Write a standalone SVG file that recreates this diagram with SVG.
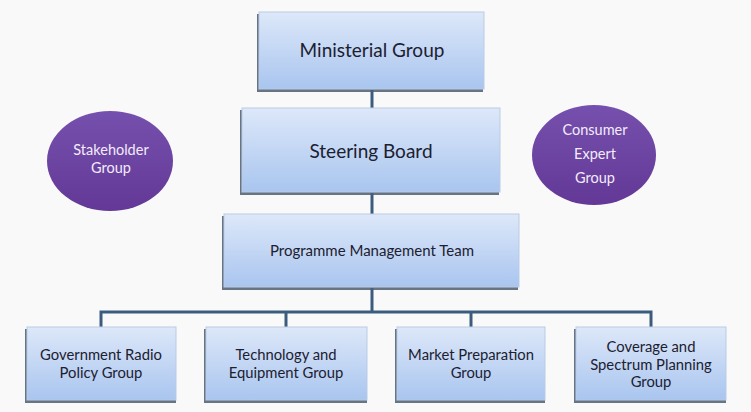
<svg xmlns="http://www.w3.org/2000/svg" width="751" height="412" viewBox="0 0 751 412">
<defs>
<linearGradient id="boxg" x1="0" y1="0" x2="0" y2="1">
<stop offset="0" stop-color="#dde8f9"/>
<stop offset="1" stop-color="#a9c5ef"/>
</linearGradient>
<linearGradient id="ellg" x1="0" y1="0" x2="0" y2="1">
<stop offset="0" stop-color="#7650ae"/>
<stop offset="1" stop-color="#633896"/>
</linearGradient>
</defs>
<style>
.shadow{fill:#4e5d70;opacity:0.85}
.box{fill:url(#boxg);stroke:#b9cbe6;stroke-width:1}
.ell{fill:url(#ellg)}
.conn{stroke:#3b5c7e;stroke-width:3;fill:none}
text{font-family:Lato,"Open Sans","Liberation Sans",sans-serif;fill:#1c2030;text-anchor:middle}
.big{font-size:19px}
.mid{font-size:15px}
.sm{font-size:14.8px}
.wt{fill:#f3ecfa;font-size:14.5px}
</style>
<rect width="751" height="412" fill="#f9f9f9"/>
<g id="connectors">
<line class="conn" x1="372" y1="90" x2="372" y2="108"/>
<line class="conn" x1="372" y1="193" x2="372" y2="214"/>
<line class="conn" x1="372" y1="288" x2="372" y2="312"/>
<polyline class="conn" points="101,327 101,312 651,312 651,327"/>
<line class="conn" x1="286" y1="312" x2="286" y2="327"/>
<line class="conn" x1="471" y1="312" x2="471" y2="327"/>
</g>
<g id="ministerial">
<rect class="shadow" x="257" y="14" width="226" height="78"/>
<rect class="box" x="259" y="12" width="225" height="77"/>
<text class="big" x="372" y="57">Ministerial Group</text>
</g>
<g id="steering">
<rect class="shadow" x="240" y="110" width="259" height="85"/>
<rect class="box" x="242" y="108" width="258" height="84"/>
<text class="big" x="371" y="158">Steering Board</text>
</g>
<g id="pmt">
<rect class="shadow" x="222" y="216" width="296" height="74"/>
<rect class="box" x="224" y="214" width="295" height="73"/>
<text class="mid" x="372" y="256">Programme Management Team</text>
</g>
<g id="stakeholder">
<ellipse class="ell" cx="110" cy="161" rx="63" ry="50"/>
<text class="wt" x="111" y="155">Stakeholder</text>
<text class="wt" x="111" y="173">Group</text>
</g>
<g id="consumer">
<ellipse class="ell" cx="594" cy="155" rx="62" ry="50"/>
<text class="wt" x="595" y="135">Consumer</text>
<text class="wt" x="595" y="159">Expert</text>
<text class="wt" x="595" y="183">Group</text>
</g>
<g id="govradio">
<rect class="shadow" x="25" y="329" width="151" height="74"/>
<rect class="box" x="27" y="327" width="149" height="73"/>
<text class="sm" x="101" y="360">Government Radio</text>
<text class="sm" x="101" y="378">Policy Group</text>
</g>
<g id="techequip">
<rect class="shadow" x="204" y="329" width="163" height="74"/>
<rect class="box" x="206" y="327" width="161" height="73"/>
<text class="sm" x="286" y="360">Technology and</text>
<text class="sm" x="286" y="378">Equipment Group</text>
</g>
<g id="market">
<rect class="shadow" x="395" y="329" width="150" height="74"/>
<rect class="box" x="397" y="327" width="148" height="73"/>
<text class="sm" x="471" y="360">Market Preparation</text>
<text class="sm" x="471" y="378">Group</text>
</g>
<g id="coverage">
<rect class="shadow" x="574" y="329" width="152" height="74"/>
<rect class="box" x="576" y="327" width="150" height="73"/>
<text class="sm" x="651" y="352">Coverage and</text>
<text class="sm" x="651" y="370">Spectrum Planning</text>
<text class="sm" x="651" y="387">Group</text>
</g>
</svg>
